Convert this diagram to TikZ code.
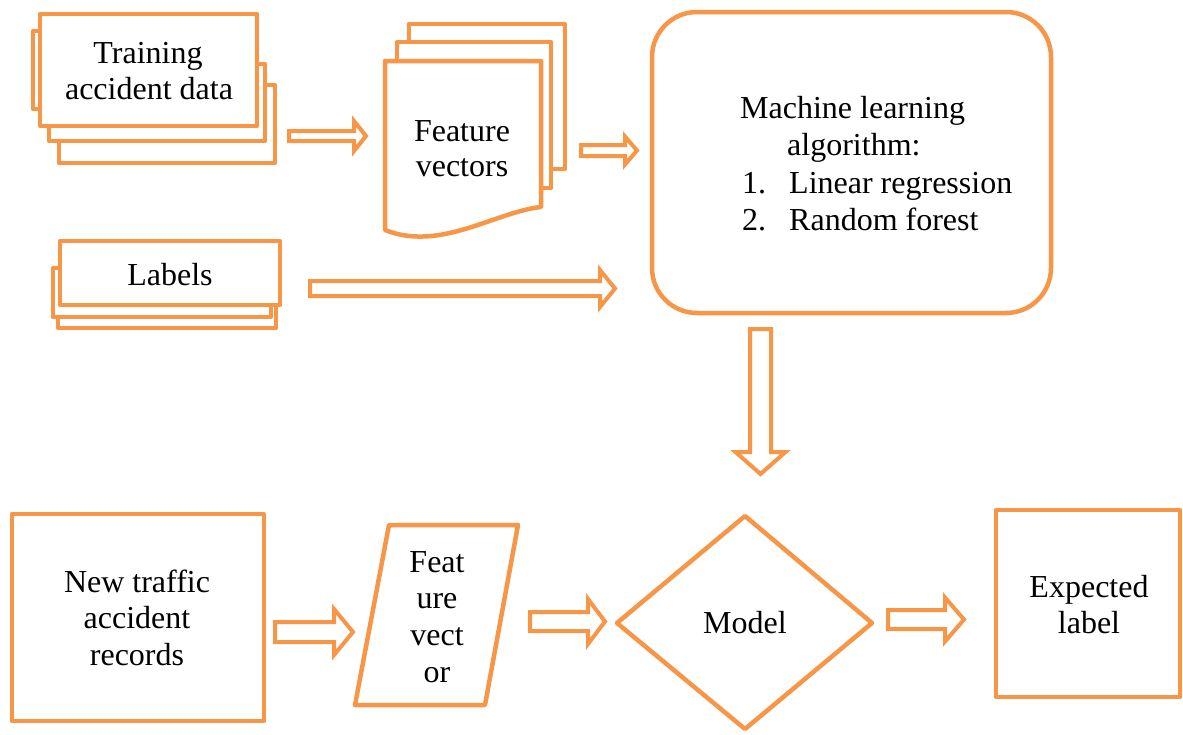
\documentclass[tikz,border=0pt]{standalone}
\usepackage{fontspec}
\setmainfont{Liberation Serif}
\definecolor{org}{HTML}{F79646}
\newcommand\harr[6]{% x0, xbase, xtip, yc, half shaft, half head
  \draw[arr] (#1,#4-#5) -- (#2,#4-#5) -- (#2,#4-#6) -- (#3,#4) -- (#2,#4+#6) -- (#2,#4+#5) -- (#1,#4+#5) -- cycle;}
\begin{document}
\begin{tikzpicture}[x=1pt,y=-1pt,
  shp/.style={draw=org, line width=4.5pt, fill=white, line join=round},
  arr/.style={draw=org, line width=4pt, fill=white, line join=miter},
  txt/.style={anchor=base, inner sep=0pt, font=\fontsize{32}{37}\selectfont},
  txtw/.style={txt, anchor=base west}]
\useasboundingbox (0,0) rectangle (1183,734);

% Training accident data stack
\draw[shp] (59,85) rectangle (275,163);
\draw[shp] (49,64) rectangle (265,141);
\draw[shp] (33,31) rectangle (150,109);
\draw[shp] (40,14) rectangle (257,126);
\node[txt] (tr1) at (148,63) {Training};
\node[txt] (tr2) at (149,99) {accident data};

% Feature vectors stack
\draw[shp] (409,24) rectangle (565,169);
\draw[shp] (397,42) rectangle (551,188);
\draw[shp] (385,61) -- (541,61) -- (541,207) .. controls (495,212) and (440,252) .. (385,230) -- cycle;
\node[txt] (fv1) at (462,141) {Feature};
\node[txt] (fv2) at (462,176) {vectors};

% Machine learning box
\draw[shp, rounded corners=45pt] (652,12) rectangle (1051,313);
\node[txtw] (ml1) at (740,118) {Machine learning};
\node[txtw] (ml2) at (787,155) {algorithm:};
\node[txtw] (ml3) at (742,193) {1.};
\node[txtw] (ml4) at (789,193) {Linear regression};
\node[txtw] (ml5) at (742,230) {2.};
\node[txtw] (ml6) at (789,230) {Random forest};

% Labels stack
\draw[shp] (58,290) rectangle (276,328);
\draw[shp] (53,268) rectangle (271,317);
\draw[shp] (60,241) rectangle (280,305);
\node[txt] (lb) at (170,285) {Labels};

% top arrows
\harr{289}{354}{366}{136}{5}{15}
\harr{581}{625}{637}{150.5}{5.5}{14}
\harr{310}{600}{615}{288.5}{7.5}{18.5}

% down arrow
\draw[arr] (750,329) -- (771,329) -- (771,452) -- (785.5,452) -- (760.5,474) -- (735.5,452) -- (750,452) -- cycle;

% New traffic accident records
\draw[shp] (12,514) rectangle (264,721);
\node[txt] (nt1) at (137,592) {New traffic};
\node[txt] (nt2) at (137,628) {accident};
\node[txt] (nt3) at (137,665) {records};

% Feature vector parallelogram
\draw[shp] (389,525) -- (518,525) -- (485,705) -- (355,705) -- cycle;
\node[txt] (pv1) at (437,572) {Feat};
\node[txt] (pv2) at (437,608) {ure};
\node[txt] (pv3) at (437,645) {vect};
\node[txt] (pv4) at (437,682) {or};

% Model diamond
\draw[shp] (745,516) -- (872,623) -- (745,729) -- (617,623) -- cycle;
\node[txt] (md) at (745,633) {Model};

% Expected label
\draw[shp] (996,510) rectangle (1180,697);
\node[txt] (ex1) at (1089,597) {Expected};
\node[txt] (ex2) at (1089,633) {label};

% bottom arrows
\harr{275}{334}{353}{632}{10}{23}
\harr{530}{588}{605}{621.5}{9.5}{22.5}
\harr{888}{945}{964}{619.5}{9.5}{22}
\end{tikzpicture}
\end{document}
